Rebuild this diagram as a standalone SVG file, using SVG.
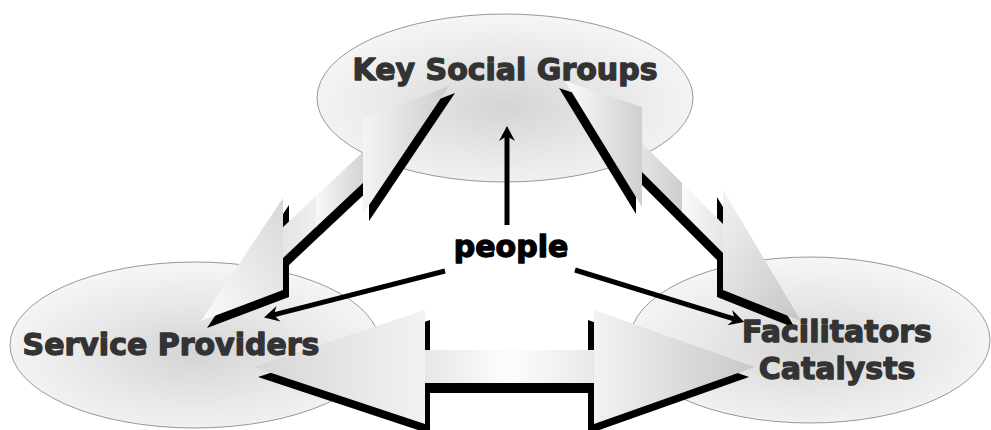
<svg xmlns="http://www.w3.org/2000/svg" xmlns:xlink="http://www.w3.org/1999/xlink" width="991" height="430" viewBox="0 0 991 430">
<defs>
<style>
.node-shape{stroke:#8c8c8c;stroke-width:0.9;fill:url(#gEll)}
.label{font-family:"DejaVu Sans","Liberation Sans",sans-serif;font-weight:bold;font-size:30px;fill:#333333;stroke:#333333;stroke-width:1.3;stroke-linejoin:round;text-anchor:middle}
.hub{fill:#000000;stroke:#000000}
.shadow use{fill:#000000}
.thin{stroke:#000000;stroke-width:5;fill:none;marker-end:url(#barb)}
</style>
<radialGradient id="gEll" cx="0.5" cy="0.55" r="0.55">
<stop offset="0" stop-color="#d4d4d4"/><stop offset="0.55" stop-color="#e8e8e8"/><stop offset="1" stop-color="#f6f6f6"/>
</radialGradient>
<linearGradient id="gLUH" x1="0" y1="0" x2="1" y2="0"><stop offset="0" stop-color="#f4f4f4"/><stop offset="1" stop-color="#cdcdcd"/></linearGradient>
<linearGradient id="gLSA" x1="0" y1="0" x2="1" y2="0"><stop offset="0" stop-color="#f8f8f8"/><stop offset="1" stop-color="#d2d2d2"/></linearGradient>
<linearGradient id="gLSB" x1="0" y1="0" x2="1" y2="0"><stop offset="0" stop-color="#e4e4e4"/><stop offset="1" stop-color="#efefef"/></linearGradient>
<linearGradient id="gLLH" x1="1" y1="0" x2="0" y2="1"><stop offset="0" stop-color="#d8d8d8"/><stop offset="1" stop-color="#fbfbfb"/></linearGradient>
<linearGradient id="gRUH" x1="0" y1="0" x2="1" y2="0"><stop offset="0" stop-color="#fbfbfb"/><stop offset="1" stop-color="#cfcfcf"/></linearGradient>
<linearGradient id="gRSA" x1="0" y1="0" x2="1" y2="0"><stop offset="0" stop-color="#e4e4e4"/><stop offset="1" stop-color="#cdcdcd"/></linearGradient>
<linearGradient id="gRSB" x1="0" y1="0" x2="1" y2="0"><stop offset="0" stop-color="#fafafa"/><stop offset="1" stop-color="#e4e4e4"/></linearGradient>
<linearGradient id="gRLH" x1="0" y1="0" x2="1" y2="1"><stop offset="0" stop-color="#f2f2f2"/><stop offset="1" stop-color="#c6c6c6"/></linearGradient>
<linearGradient id="gHLH" x1="0" y1="0" x2="1" y2="0"><stop offset="0" stop-color="#d6d6d6"/><stop offset="1" stop-color="#f2f2f2"/></linearGradient>
<linearGradient id="gHSH" x1="0" y1="0" x2="1" y2="0"><stop offset="0" stop-color="#e6e6e6"/><stop offset="0.5" stop-color="#fdfdfd"/><stop offset="1" stop-color="#e8e8e8"/></linearGradient>
<linearGradient id="gHRH" x1="0" y1="0" x2="1" y2="0"><stop offset="0" stop-color="#f2f2f2"/><stop offset="1" stop-color="#c8c8c8"/></linearGradient>
<marker id="barb" markerUnits="userSpaceOnUse" markerWidth="24" markerHeight="24" refX="0" refY="0" orient="auto" overflow="visible">
<path d="M10,0 L-5,-8 L0,0 L-5,8 Z" fill="#000000"/>
</marker>
<polygon id="L_uh" points="449,86 363,119 363,214"/>
<polygon id="L_sa" points="365,150.1 316,196.1 316,227.1 365,181.1"/>
<polygon id="L_sb" points="317,195.1 281,228.9 281,259.9 317,226.1"/>
<polygon id="L_lh" points="283,198 201,321 283,290"/>
<polygon id="R_uh" points="565,81 642,107 642,207"/>
<polygon id="R_sa" points="640,141 683,184 683,213 640,170"/>
<polygon id="R_sb" points="682,183 725,226 725,255 682,212"/>
<polygon id="R_lh" points="723,190 801,321 723,290"/>
<polygon id="H_lh" points="253,367 425,310 425,424"/>
<polygon id="H_sh" points="423,350 596,350 596,383 423,383"/>
<polygon id="H_shL" points="423,350 511,350 511,383 423,383"/>
<polygon id="H_shR" points="509,350 596,350 596,383 509,383"/>
<polygon id="H_rh" points="594,310 755,367 594,424"/>
</defs>

<g id="node-shapes">
<ellipse id="key-social-groups-shape" class="node-shape" cx="505" cy="98" rx="188" ry="84"/>
<ellipse id="service-providers-shape" class="node-shape" cx="195" cy="345" rx="185" ry="83"/>
<ellipse id="facilitators-catalysts-shape" class="node-shape" cx="810" cy="340" rx="180" ry="83"/>
</g>

<g id="connectors">
<g id="arrow-ksg-sp">
<g class="shadow" transform="translate(6,7)">
<use xlink:href="#L_uh"/><use xlink:href="#L_sa"/><use xlink:href="#L_sb"/><use xlink:href="#L_lh"/>
</g>
<use xlink:href="#L_sb" fill="url(#gLSB)"/>
<use xlink:href="#L_sa" fill="url(#gLSA)"/>
<use xlink:href="#L_uh" fill="url(#gLUH)"/>
<use xlink:href="#L_lh" fill="url(#gLLH)"/>
</g>
<g id="arrow-ksg-fc">
<g class="shadow" transform="translate(-6,7)">
<use xlink:href="#R_uh"/><use xlink:href="#R_sa"/><use xlink:href="#R_sb"/><use xlink:href="#R_lh"/>
</g>
<use xlink:href="#R_sa" fill="url(#gRSA)"/>
<use xlink:href="#R_sb" fill="url(#gRSB)"/>
<use xlink:href="#R_uh" fill="url(#gRUH)"/>
<use xlink:href="#R_lh" fill="url(#gRLH)"/>
</g>
<g id="arrow-sp-fc">
<g class="shadow" transform="translate(5,10)">
<use xlink:href="#H_lh"/><use xlink:href="#H_shL"/>
</g>
<g class="shadow" transform="translate(-6,10)">
<use xlink:href="#H_rh"/><use xlink:href="#H_shR"/>
</g>
<use xlink:href="#H_sh" fill="url(#gHSH)"/>
<use xlink:href="#H_lh" fill="url(#gHLH)"/>
<use xlink:href="#H_rh" fill="url(#gHRH)"/>
</g>
<g id="people-links">
<line class="thin" x1="507" y1="225" x2="507" y2="136"/>
<line class="thin" x1="445" y1="271" x2="273.7" y2="314.9"/>
<line class="thin" x1="575" y1="270" x2="734.6" y2="319.1"/>
</g>
</g>

<g id="key-social-groups"><text class="label" x="505" y="80">Key Social Groups</text></g>
<g id="service-providers"><text class="label" x="171" y="355">Service Providers</text></g>
<g id="facilitators-catalysts">
<text class="label" x="837" y="342">Facilitators</text>
<text class="label" x="837" y="379">Catalysts</text>
</g>
<g id="people"><text class="label hub" x="511" y="257">people</text></g>
</svg>
